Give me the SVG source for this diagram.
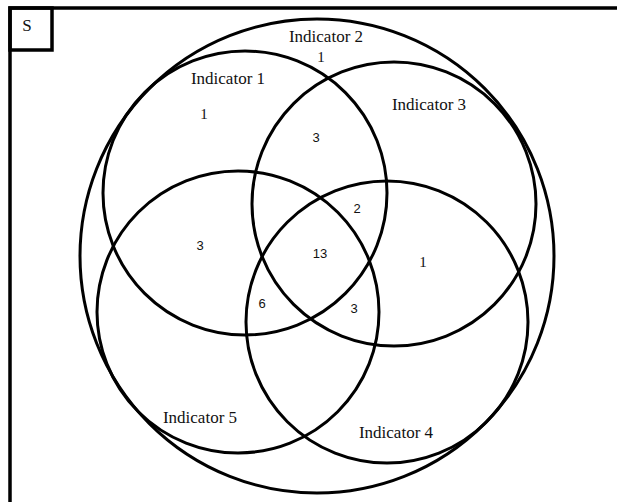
<svg xmlns="http://www.w3.org/2000/svg" width="617" height="502" viewBox="0 0 617 502">
<style>
.c{fill:none;stroke:#000;stroke-width:3}
.f{fill:none;stroke:#000;stroke-width:3.5}
.lbl{font-family:"Liberation Serif",serif;font-size:17px;fill:#111;text-anchor:middle}
.ns{font-family:"Liberation Sans",sans-serif;font-size:13px;fill:#111;text-anchor:middle}
.nr{font-family:"Liberation Serif",serif;font-size:15px;fill:#111;text-anchor:middle}
</style>
<rect width="617" height="502" fill="#fff"/>
<g id="frame">
<path class="f" d="M10,502 V8 H617"/>
<rect class="f" x="10" y="8" width="42" height="42"/>
<text x="27" y="31" class="lbl">S</text>
</g>
<g id="connectors"></g>
<g id="indicator2">
<circle class="c" cx="317" cy="256" r="237"/>
<text x="326" y="42" class="lbl">Indicator 2</text>
<text x="321" y="62" class="nr">1</text>
</g>
<g id="indicator1">
<circle class="c" cx="245" cy="193" r="142"/>
<text x="228" y="84" class="lbl">Indicator 1</text>
<text x="204" y="119" class="nr">1</text>
</g>
<g id="indicator3">
<circle class="c" cx="394" cy="204" r="142"/>
<text x="429" y="110" class="lbl">Indicator 3</text>
</g>
<g id="indicator5">
<circle class="c" cx="238" cy="312" r="141"/>
<text x="200" y="423" class="lbl">Indicator 5</text>
</g>
<g id="indicator4">
<circle class="c" cx="387" cy="322" r="141"/>
<text x="396" y="438" class="lbl">Indicator 4</text>
</g>
<g id="counts">
<text x="316" y="142" class="ns">3</text>
<text x="357" y="213" class="ns">2</text>
<text x="320" y="258" class="ns">13</text>
<text x="262" y="308" class="ns">6</text>
<text x="354" y="313" class="ns">3</text>
<text x="200" y="250" class="ns">3</text>
<text x="423" y="267" class="nr">1</text>
</g>
</svg>
